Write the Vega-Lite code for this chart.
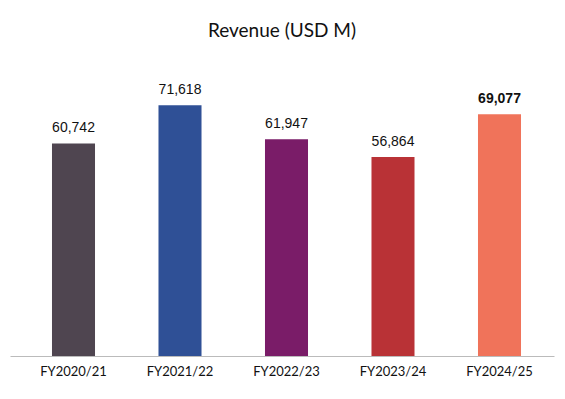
{
  "$schema": "https://vega.github.io/schema/vega-lite/v6.json",
  "width": 544,
  "height": 280,
  "autosize": {"type": "none"},
  "padding": {"left": 10, "top": 76, "right": 11, "bottom": 43},
  "background": "white",
  "title": {
    "text": "Revenue (USD M)",
    "font": "Lato",
    "fontSize": 19,
    "fontWeight": "normal",
    "color": "#111111",
    "anchor": "middle",
    "offset": 26,
    "baseline": "middle"
  },
  "data": {
    "values": [
      {"year": "FY2020/21", "revenue": 60742},
      {"year": "FY2021/22", "revenue": 71618},
      {"year": "FY2022/23", "revenue": 61947},
      {"year": "FY2023/24", "revenue": 56864},
      {"year": "FY2024/25", "revenue": 69077}
    ]
  },
  "encoding": {
    "x": {
      "field": "year",
      "type": "nominal",
      "sort": null,
      "scale": {"paddingInner": 0.596, "paddingOuter": 0.352, "align": 0.56},
      "axis": {
        "title": null,
        "ticks": false,
        "domainColor": "#bbbbbb",
        "domainWidth": 1.2,
        "labelFont": "Lato",
        "labelFontSize": 13,
        "labelColor": "#111111",
        "labelAngle": 0,
        "labelPadding": 9
      }
    },
    "y": {
      "field": "revenue",
      "type": "quantitative",
      "scale": {"domain": [0, 80000], "nice": false},
      "axis": null
    }
  },
  "layer": [
    {
      "mark": {"type": "bar"},
      "encoding": {
        "color": {
          "field": "year",
          "type": "nominal",
          "scale": {
            "domain": ["FY2020/21", "FY2021/22", "FY2022/23", "FY2023/24", "FY2024/25"],
            "range": ["#4f4550", "#2f5096", "#7a1c68", "#b93236", "#f0735a"]
          },
          "legend": null
        }
      }
    },
    {
      "transform": [{"filter": "datum.year !== 'FY2024/25'"}],
      "mark": {"type": "text", "baseline": "alphabetic", "dy": -11, "font": "Liberation Sans", "fontSize": 14, "color": "#111111"},
      "encoding": {
        "text": {"field": "revenue", "type": "quantitative", "format": ","}
      }
    },
    {
      "transform": [{"filter": "datum.year === 'FY2024/25'"}],
      "mark": {"type": "text", "baseline": "alphabetic", "dy": -11, "font": "Liberation Sans", "fontSize": 14, "fontWeight": "bold", "color": "#111111"},
      "encoding": {
        "text": {"field": "revenue", "type": "quantitative", "format": ","}
      }
    }
  ],
  "config": {"view": {"stroke": null}}
}
